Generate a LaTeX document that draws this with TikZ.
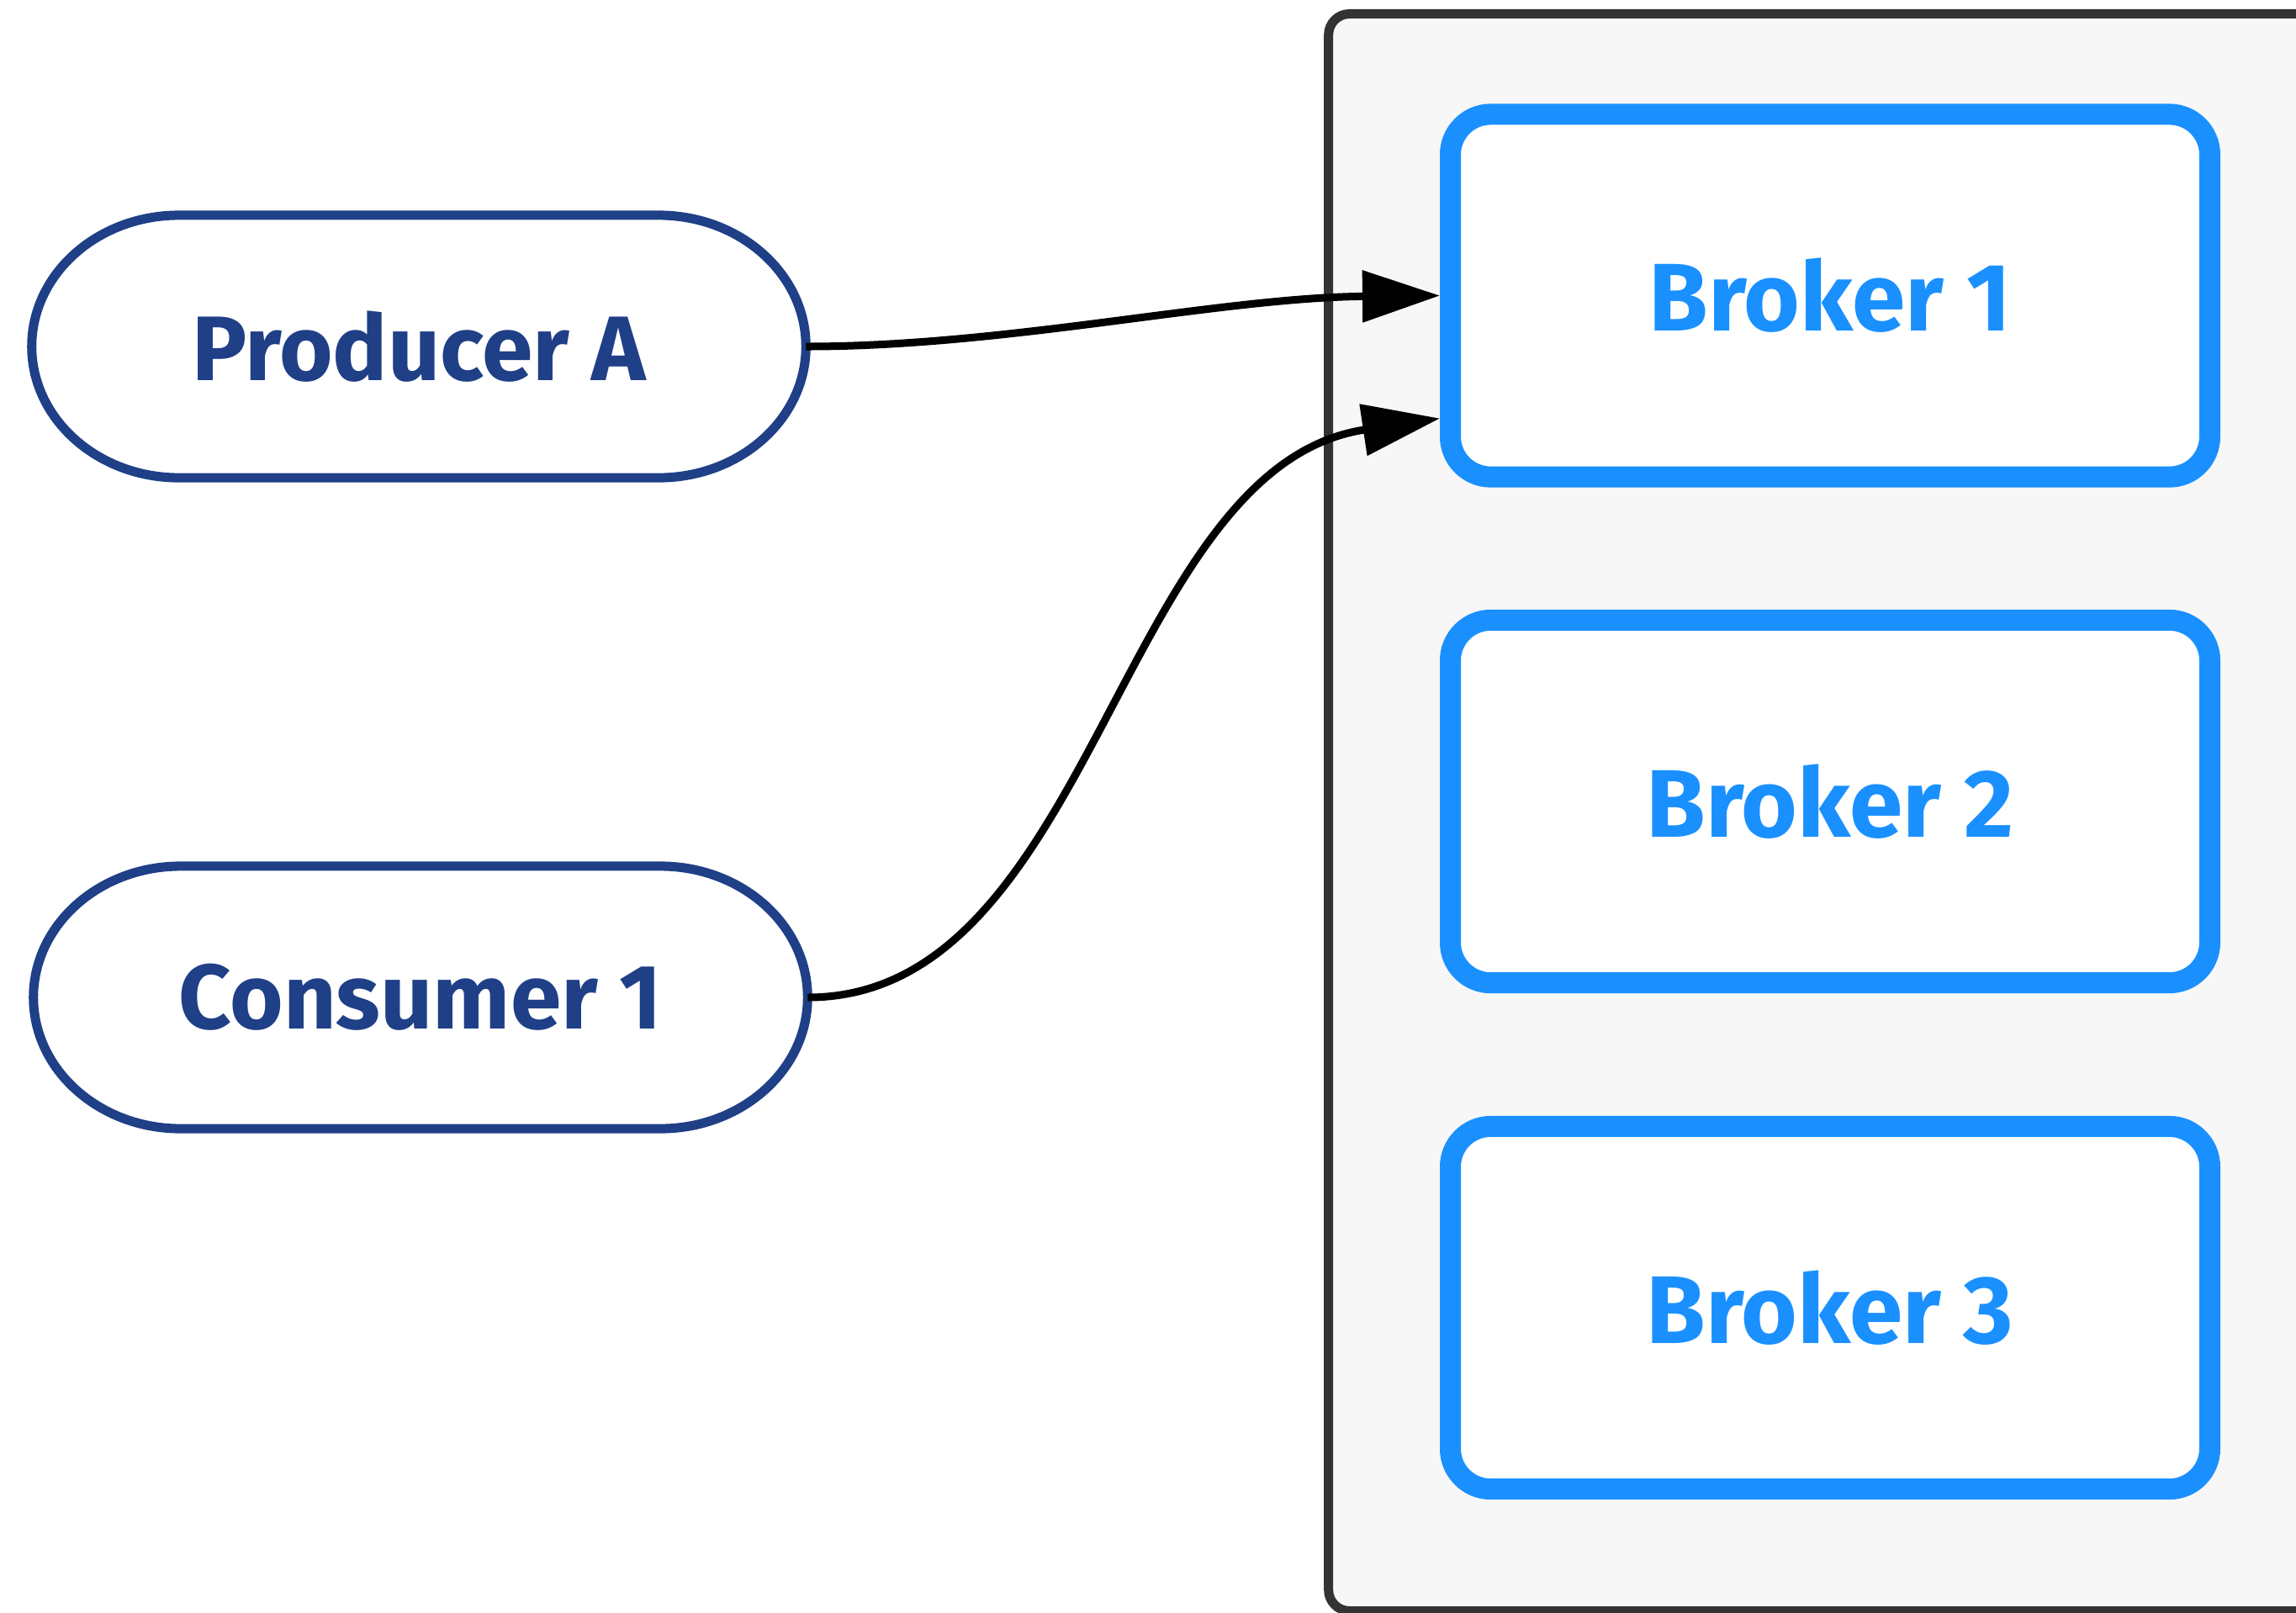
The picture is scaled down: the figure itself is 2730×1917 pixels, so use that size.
\documentclass[tikz,border=0pt]{standalone}
\usepackage{fontspec}
\setmainfont{Fira Sans}
\usetikzlibrary{arrows.meta,calc}
\definecolor{clientnavy}{HTML}{1F3F87}
\definecolor{brokerblue}{HTML}{1A90FF}
\definecolor{panelgray}{HTML}{F7F7F7}
\definecolor{panelline}{HTML}{333333}
\begin{document}
\begin{tikzpicture}[x=0.01cm,y=0.01cm,
  labelfont/.style={font=\bfseries\fontsize{31}{36}\selectfont},
  clienttext/.style={labelfont, text=clientnavy, minimum width=9.2cm, minimum height=3.12cm, inner sep=0pt, outer sep=0pt},
  clientline/.style={draw=clientnavy, line width=0.11cm},
  brokerbox/.style={font=\bfseries\fontsize{32.5}{38}\selectfont, draw=brokerblue, line width=0.25cm, fill=white, rounded corners=0.48cm,
    minimum width=9.025cm, minimum height=4.31cm, text=brokerblue},
  panel/.style={draw=panelline, fill=panelgray, line width=0.11cm, rounded corners=0.25cm,
    minimum width=12.1cm, minimum height=18.98cm, inner sep=0pt},
  link/.style={draw=black, line width=0.09cm, -{Triangle[length=0.92cm,width=0.6cm]}}]
\useasboundingbox (0,0) rectangle (2730,-1917);
\fill[white] (0,0) rectangle (2730,-1917);

% cluster panel holding the brokers
\node[panel] (cluster) at (2185,-966) {};

% brokers
\node[brokerbox] (b1) at (2176,-351.5) {Broker 1};
\node[brokerbox] (b2) at (2176,-953) {Broker 2};
\node[brokerbox] (b3) at (2176,-1555) {Broker 3};

% clients
\node[clienttext] (prodA) at (498,-412) {Producer A};
\node[clienttext] (cons1) at (500,-1186) {Consumer 1};
\foreach \n in {prodA,cons1}{
  \draw[clientline] ($(\n.north west)+(1.75cm,0)$) -- ($(\n.north east)+(-1.75cm,0)$)
    arc[start angle=90,end angle=-90,x radius=1.75cm,y radius=1.56cm]
    -- ($(\n.south west)+(1.75cm,0)$)
    arc[start angle=270,end angle=90,x radius=1.75cm,y radius=1.56cm] -- cycle;
}

% connections
\draw[link] (prodA.east) .. controls (1200,-412) and (1450,-354) .. (b1.west);
\draw[link] (cons1.east) .. controls (1300,-1186) and (1330,-555) .. ($(b1.west)+(0,-146)$);
\end{tikzpicture}
\end{document}
